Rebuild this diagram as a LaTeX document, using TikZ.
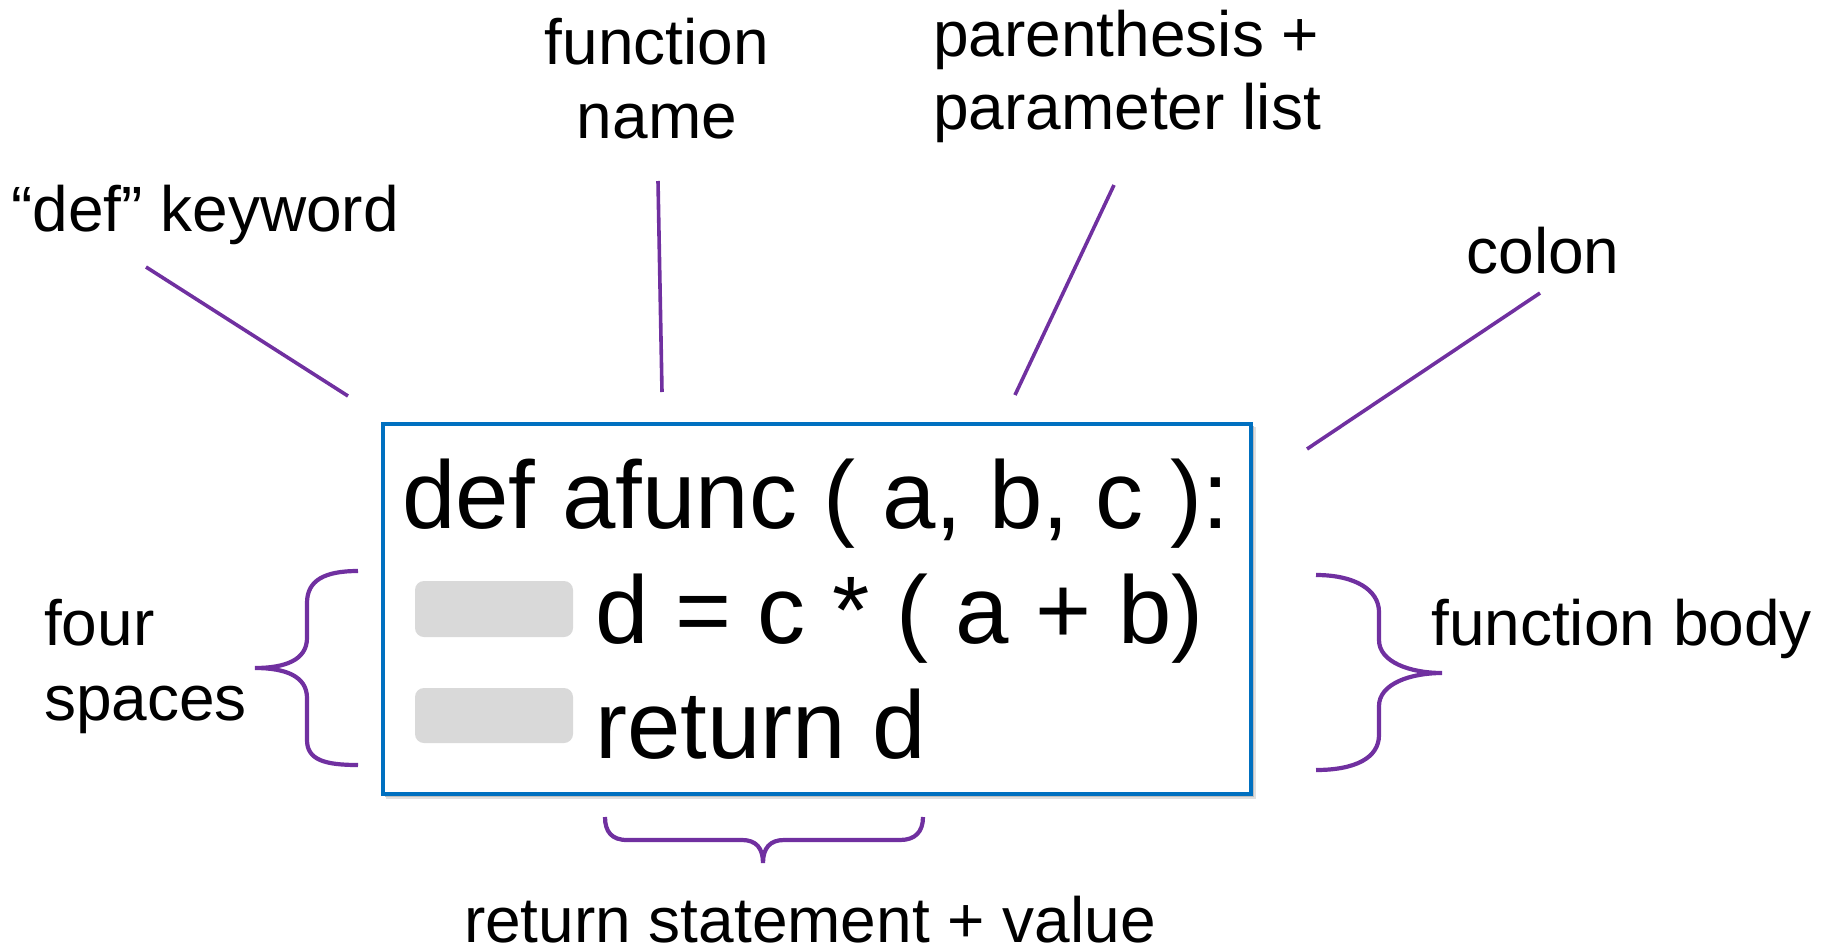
\documentclass[tikz,border=0pt]{standalone}
\usepackage{fontspec}
\setmainfont{Liberation Sans}
\definecolor{boxblue}{HTML}{0070C0}
\definecolor{lblpurple}{HTML}{7030A0}
\definecolor{padgray}{HTML}{D9D9D9}
\begin{document}
\begin{tikzpicture}[x=1pt,y=-1pt,
  codebox/.style={draw=boxblue,line width=3.5pt,fill=white,minimum width=868pt,minimum height=370pt,inner sep=0pt},
  codetext/.style={inner sep=0pt,anchor=base west,font=\fontsize{96}{115}\selectfont},
  lbl/.style={inner sep=0pt,font=\fontsize{64}{76}\selectfont},
  pad/.style={fill=padgray,rounded corners=9pt,draw=none},
  pointer/.style={draw=lblpurple,line width=3.6pt},
  bracket/.style={draw=lblpurple,line width=4.2pt}]
\useasboundingbox (0,0) rectangle (1829,948);
% shadow
\fill[black!12] (386,427) rectangle (1256,799);
\fill[black!25] (385,426) rectangle (1254,797);
\node[codebox] (box) at (817,609) {};
% indentation pads
\fill[pad] (415,581) rectangle (573,637);
\fill[pad] (415,688) rectangle (573,743);
% code
\node[codetext] (l1) at (402,528) {def afunc ( a, b, c ):};
\node[codetext] (l2) at (595,643) {d = c * ( a + b)};
\node[codetext] (l3) at (595,758) {return d};
% labels
\node[lbl,anchor=base west] (kw) at (11,231) {“def” keyword};
\node[lbl,anchor=base] (fn1) at (657,64) {function};
\node[lbl,anchor=base] (fn2) at (657,138) {name};
\node[lbl,anchor=base west] (par1) at (933,56) {parenthesis +};
\node[lbl,anchor=base west] (par2) at (933,129) {parameter list};
\node[lbl,anchor=base] (col) at (1543,273) {colon};
\node[lbl,anchor=base west] (four) at (44,645) {four};
\node[lbl,anchor=base west] (spaces) at (44,720) {spaces};
\node[lbl,anchor=base west] (body) at (1431,645) {function body};
\node[lbl,anchor=base,text depth=0pt] (ret) at (810,942) {return statement + value};
% pointer lines
\coordinate (kwA) at (146,267); \coordinate (kwB) at (348,396);
\coordinate (fnA) at (658,181); \coordinate (fnB) at (662,392);
\coordinate (parA) at (1114,185); \coordinate (parB) at (1015,395);
\coordinate (colA) at (1540,293); \coordinate (colB) at (1307,449);
\draw[pointer] (kwA) -- (kwB);
\draw[pointer] (fnA) -- (fnB);
\draw[pointer] (parA) -- (parB);
\draw[pointer] (colA) -- (colB);
% braces
\draw[bracket] (358,571) .. controls (325,571) and (307,580) .. (307,603) -- (307,638)
  .. controls (307,660) and (285,668) .. (255,668)
  .. controls (285,668) and (307,676) .. (307,698) -- (307,740)
  .. controls (307,760) and (325,765) .. (358,765);
\draw[bracket] (1316,575) .. controls (1355,575) and (1379,590) .. (1379,612) -- (1379,640)
  .. controls (1379,662) and (1410,673) .. (1442,673)
  .. controls (1410,673) and (1379,684) .. (1379,706) -- (1379,735)
  .. controls (1379,758) and (1355,770) .. (1316,770);
\draw[bracket] (605,817) .. controls (605,832) and (612,840) .. (627,840) -- (742,840)
  .. controls (756,840) and (763,848) .. (763,863)
  .. controls (763,848) and (770,840) .. (784,840) -- (900,840)
  .. controls (915,840) and (923,832) .. (923,817);
\end{tikzpicture}
\end{document}
